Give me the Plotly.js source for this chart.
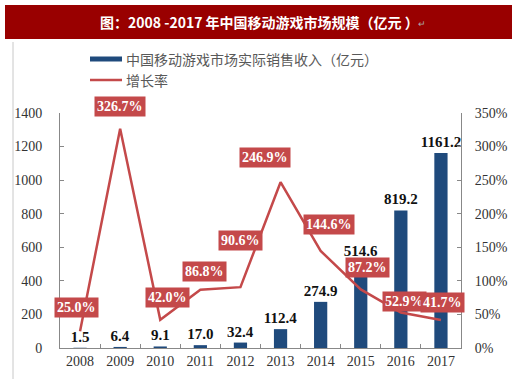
<!DOCTYPE html>
<html><head><meta charset="utf-8">
<script src="https://cdn.plot.ly/plotly-3.0.1.min.js"></script>
<style>html,body{margin:0;padding:0;background:#fff}#chart{width:520px;height:379px}</style>
</head><body><div id="chart"></div>
<script>
// ---- data ----
const years = ['2008','2009','2010','2011','2012','2013','2014','2015','2016','2017'];
const revenue = [1.5, 6.4, 9.1, 17.0, 32.4, 112.4, 274.9, 514.6, 819.2, 1161.2];
const growth = [25.0, 326.7, 42.0, 86.8, 90.6, 246.9, 144.6, 87.2, 52.9, 41.7];
const revenueName = '中国移动游戏市场实际销售收入（亿元）';
const growthName = '增长率';
const titleText = '图：2008 -2017 年中国移动游戏市场规模（亿元 ）';

// ---- label offsets (style only) ----
const gOff = [[-4,24],[0,22],[7,22],[4,18],[0,47],[-16,25],[8,26],[7,22],[4,11],[2,18]];

const serif = '"Liberation Serif","Times New Roman",serif';
const cjk = '"Noto Sans CJK SC","Noto Sans",sans-serif';
const blue = '#1F4A7C';
const red = '#C4494A';

const traces = [
  {type:'bar', x:years, y:revenue, name:revenueName, marker:{color:blue}, width:0.33,
   text:revenue.map(v=>v.toFixed(1)), textposition:'outside', cliponaxis:false, constraintext:'none',
   textfont:{family:serif, size:15, color:'#111', weight:'bold'}, showlegend:false, hoverinfo:'skip'},
  {type:'scatter', mode:'lines', x:years, y:growth, yaxis:'y2', name:growthName,
   line:{color:red, width:2.5}, showlegend:false, hoverinfo:'skip'}
];

const annotations = growth.map((g,i)=>({
  x:i, y:g, xref:'x', yref:'y2', showarrow:false,
  xshift:gOff[i][0], yshift:gOff[i][1],
  text:'<b>'+g.toFixed(1)+'%</b>', font:{family:serif, size:14, color:'#fff'},
  bgcolor:red, borderpad:2
}));

const px = v => (v-60)/401;
const py = v => 1+(113-v)/235;

// title
annotations.push({xref:'paper', yref:'paper', x:px(259), y:py(22), xanchor:'center', yanchor:'middle', showarrow:false,
  text:'<b>'+titleText+'</b>', font:{family:cjk, size:14, color:'#fff'}});
annotations.push({xref:'paper', yref:'paper', x:px(416), y:py(23), xanchor:'left', yanchor:'middle', showarrow:false,
  text:'↵', font:{family:cjk, size:9, color:'#aaa'}});
// legend
annotations.push({xref:'paper', yref:'paper', x:px(124), y:py(59), xanchor:'left', yanchor:'middle', showarrow:false,
  text:revenueName, font:{family:cjk, size:14, color:'#595959'}});
annotations.push({xref:'paper', yref:'paper', x:px(124), y:py(80), xanchor:'left', yanchor:'middle', showarrow:false,
  text:growthName, font:{family:cjk, size:14, color:'#595959'}});

const shapes = [
  {type:'rect', xref:'paper', yref:'paper', x0:px(5), x1:px(512), y0:py(39), y1:py(5), fillcolor:'#990000', line:{width:0}, layer:'below'},
  {type:'line', xref:'paper', yref:'paper', x0:px(13), x1:px(13), y0:py(42), y1:py(379), line:{color:'#c8c8c8', width:1}},
  {type:'line', xref:'paper', yref:'paper', x0:px(90), x1:px(122), y0:py(59), y1:py(59), line:{color:blue, width:5}},
  {type:'line', xref:'paper', yref:'paper', x0:px(90), x1:px(122), y0:py(80), y1:py(80), line:{color:red, width:2.5}}
];

const layout = {
  width:520, height:379, margin:{l:60, r:59, t:113, b:31},
  paper_bgcolor:'#fff', plot_bgcolor:'#fff', showlegend:false,
  xaxis:{type:'category', range:[-0.5, 9.5], showline:true, linecolor:'#888', linewidth:1,
    ticks:'inside', tickson:'boundaries', ticklen:4, tickcolor:'#888', showgrid:false,
    tickfont:{family:serif, size:14, color:'#333'}},
  yaxis:{range:[0,1400], dtick:200, showline:true, linecolor:'#888', ticks:'inside', ticklen:4, tickcolor:'#888',
    showgrid:false, zeroline:false, tickfont:{family:serif, size:14, color:'#333'}, ticklabelstandoff:14},
  yaxis2:{range:[0,350], dtick:50, overlaying:'y', side:'right', showline:true, linecolor:'#888', ticks:'inside',
    ticklen:4, tickcolor:'#888', showgrid:false, zeroline:false, ticksuffix:'%',
    tickfont:{family:serif, size:14, color:'#333'}, ticklabelstandoff:10},
  annotations, shapes
};

Plotly.newPlot('chart', traces, layout, {staticPlot:true});
</script></body></html>
